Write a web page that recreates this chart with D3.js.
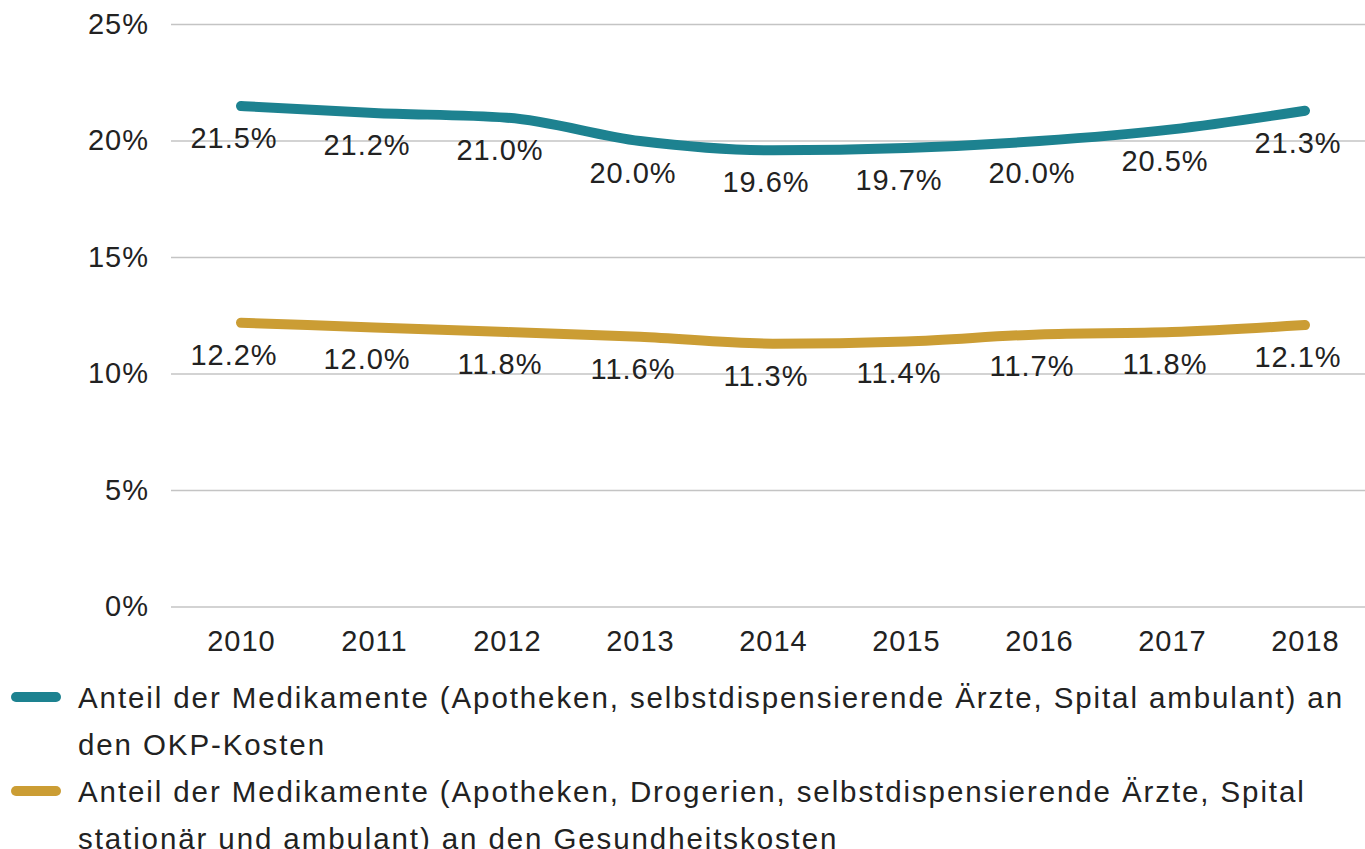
<!DOCTYPE html>
<html>
<head>
<meta charset="utf-8">
<script src="https://cdn.jsdelivr.net/npm/d3@7"></script>
<style>
  body { margin: 0; background: #fff; }
  svg { display: block; font-family: "Liberation Sans", Arial, sans-serif; }
</style>
</head>
<body>
<svg id="chart" width="1365" height="849"></svg>
<script>
// data
var years = [2010, 2011, 2012, 2013, 2014, 2015, 2016, 2017, 2018];
var okpShare = [21.5, 21.2, 21.0, 20.0, 19.6, 19.7, 20.0, 20.5, 21.3];
var healthShare = [12.2, 12.0, 11.8, 11.6, 11.3, 11.4, 11.7, 11.8, 12.1];
var yTicks = [0, 5, 10, 15, 20, 25];
var legendLines = [
  ["Anteil der Medikamente (Apotheken, selbstdispensierende Ärzte, Spital ambulant) an", "den OKP-Kosten"],
  ["Anteil der Medikamente (Apotheken, Drogerien, selbstdispensierende Ärzte, Spital", "stationär und ambulant) an den Gesundheitskosten"]
];
var colors = ["#1d8290", "#cb9d34"];

var svg = d3.select("#chart");

var x = d3.scaleLinear().domain([2010, 2018]).range([241, 1305]);
var y = d3.scaleLinear().domain([0, 25]).range([607, 24.5]);

// gridlines
svg.append("g")
  .selectAll("line")
  .data(yTicks)
  .join("line")
  .attr("x1", 171).attr("x2", 1365)
  .attr("y1", function(d) { return y(d); })
  .attr("y2", function(d) { return y(d); })
  .attr("stroke", "#c4c4c4")
  .attr("stroke-width", 1.3);

// y labels
svg.append("g")
  .selectAll("text")
  .data(yTicks)
  .join("text")
  .attr("x", 149)
  .attr("y", function(d) { return y(d) + 9; })
  .attr("text-anchor", "end")
  .attr("font-size", 29)
  .attr("letter-spacing", 1)
  .attr("fill", "#222")
  .text(function(d) { return d + "%"; });

// x labels
svg.append("g")
  .selectAll("text")
  .data(years)
  .join("text")
  .attr("x", function(d) { return x(d) + 0.5; })
  .attr("y", 651)
  .attr("text-anchor", "middle")
  .attr("font-size", 29)
  .attr("letter-spacing", 1)
  .attr("fill", "#222")
  .text(function(d) { return d; });

var line = d3.line()
  .x(function(d, i) { return x(years[i]); })
  .y(function(d) { return y(d); })
  .curve(d3.curveMonotoneX);

[okpShare, healthShare].forEach(function(series, k) {
  svg.append("path")
    .datum(series)
    .attr("d", line)
    .attr("fill", "none")
    .attr("stroke", colors[k])
    .attr("stroke-width", 10)
    .attr("stroke-linecap", "round")
    .attr("stroke-linejoin", "round");

  svg.append("g")
    .selectAll("text")
    .data(series)
    .join("text")
    .attr("x", function(d, i) { return x(years[i]) - 7; })
    .attr("y", function(d) { return y(d) + 42; })
    .attr("text-anchor", "middle")
    .attr("font-size", 29)
    .attr("letter-spacing", 1)
    .attr("fill", "#222")
    .text(function(d) { return d.toFixed(1) + "%"; });
});

// legend
var lineH = 47;
legendLines.forEach(function(rows, k) {
  var top = 708 + k * 2 * lineH;
  svg.append("line")
    .attr("x1", 16).attr("x2", 56)
    .attr("y1", top - 11).attr("y2", top - 11)
    .attr("stroke", colors[k])
    .attr("stroke-width", 10)
    .attr("stroke-linecap", "round");
  var t = svg.append("text")
    .attr("font-size", 29.5)
    .attr("letter-spacing", 1.9)
    .attr("fill", "#222");
  rows.forEach(function(r, j) {
    t.append("tspan")
      .attr("x", 78)
      .attr("y", top + j * lineH)
      .text(r);
  });
});
</script>
</body>
</html>
